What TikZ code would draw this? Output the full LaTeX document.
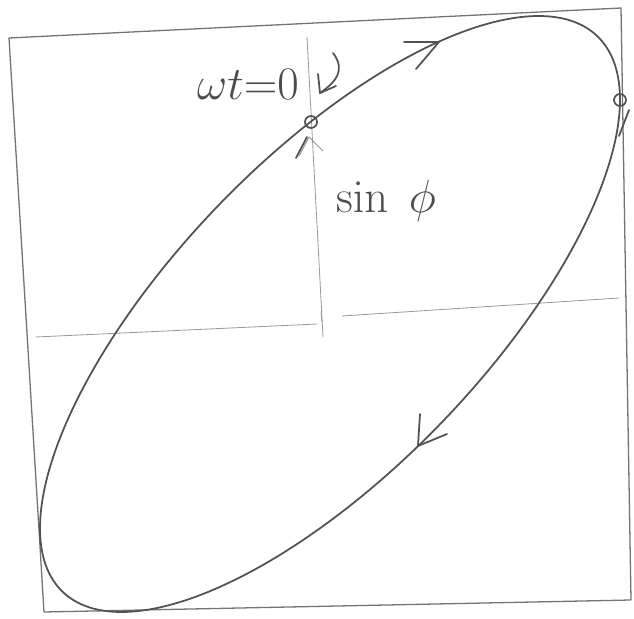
\documentclass[tikz,border=0pt]{standalone}
\usepackage{amsmath,amssymb}
\usepackage{graphicx,xcolor,tikz}
\usetikzlibrary{arrows.meta}
\newcommand{\handlabel}[1]{\scalebox{1.6}{#1}}

\begin{document}
\begin{tikzpicture}[x=0.03cm,y=-0.03cm,line cap=round,line join=round,every node/.style={font=\fontsize{24.88}{30}\selectfont,text=black!70,inner sep=0pt},frame/.style={draw=black!55,line width=1.1pt},axis/.style={draw=black!40,line width=0.7pt},curve/.style={draw=black!68,line width=1.5pt},barb/.style={draw=black!68,line width=1.5pt},ptring/.style={draw=black!68,line width=1.5pt}]
\useasboundingbox (0,0) rectangle (634,619);
\draw[frame] (9,38) -- (621,8) -- (631,600) -- (44,612) -- cycle;
\draw[axis] (307,37) -- (323,337);
\draw[axis] (36,337) -- (317,324);
\draw[axis] (342,316) -- (619,298);
\draw[axis] (321,312) -- (322,322);
\draw[curve] plot[smooth cycle,domain=0:357.5,samples=144,variable=\t] ({330+290*sin(\t)},{314-298*sin(\t+44)});
\coordinate (start) at (311,122);
\coordinate (rmax) at (620,100);
\coordinate (uptip) at (439,42);
\coordinate (downtip) at (418,446);
\draw[ptring] (start) circle (6);
\draw[ptring] (rmax) circle (6);
\draw[barb] (404,42) -- (uptip) -- (416,69);
\draw[barb] (420,414) -- (downtip) -- (447,434);
\draw[barb] (296,158) -- (307,137);
\draw[axis,line width=0.9pt] (299,156) -- (309,137) -- (323,151);
\draw[barb] (629,110) -- (619,136);
\node (wt) at (248,84) {\handlabel{$\omega t{=}0$}};
\node (sinphi) at (386,201) {\handlabel{$\sin\;\phi$}};
\draw[barb] (333,53) .. controls (346,70) and (336,82) .. (320,93);
\draw[barb] (318,74) -- (320,93) -- (336,86);
\end{tikzpicture}
\end{document}
